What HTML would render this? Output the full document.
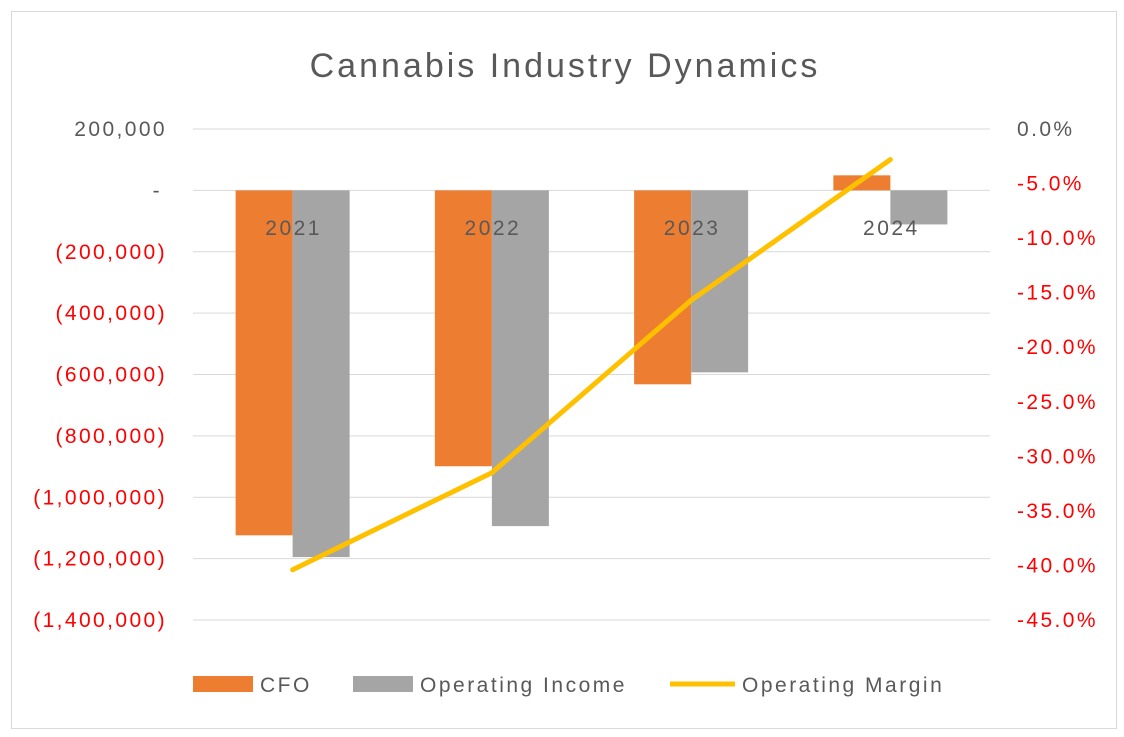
<!DOCTYPE html>
<html><head><meta charset="utf-8"><style>
html,body{margin:0;padding:0;background:#fff}
svg{display:block;font-family:"Liberation Sans",Calibri,sans-serif}
</style></head><body>
<svg id="c" width="1124" height="737">
<rect x="11.5" y="11.5" width="1105" height="717" fill="#fff" stroke="#d9d9d9"/>
<text x="565" y="77" font-size="34" letter-spacing="3" fill="#595959" text-anchor="middle">Cannabis Industry Dynamics</text>
<g id="grid"></g><g id="bars"></g><g id="line"></g><g id="axes"></g>
<g letter-spacing="2.5">
<rect x="193" y="676" width="60" height="16" fill="#ed7d31"/>
<text x="260" y="692" font-size="21" fill="#595959">CFO</text>
<rect x="353" y="676" width="60" height="16" fill="#a5a5a5"/>
<text x="420" y="692" font-size="21" fill="#595959">Operating Income</text>
<line x1="670" y1="684" x2="735" y2="684" stroke="#ffc000" stroke-width="5"/>
<text x="742" y="692" font-size="21" fill="#595959">Operating Margin</text>
</g>
</svg>
<script>
const categories=["2021","2022","2023","2024"];
const cfo=[-1124000,-899000,-632000,49000];
const opIncome=[-1195000,-1094000,-593000,-111000];
const opMargin=[-40.4,-31.5,-15.7,-2.8];
const leftTicks=[200000,0,-200000,-400000,-600000,-800000,-1000000,-1200000,-1400000];
const rightTicks=[0,-5,-10,-15,-20,-25,-30,-35,-40,-45];
const NS="http://www.w3.org/2000/svg";
const x0=193,x1=990,yTop=129,yBot=620;
const yL=v=>yTop+(200000-v)/1600000*(yBot-yTop);
const yR=v=>yTop+(0-v)/45*(yBot-yTop);
const band=(x1-x0)/categories.length;
const xc=i=>x0+band*(i+0.5);
function mk(t,a,p){const e=document.createElementNS(NS,t);for(const k in a)e.setAttribute(k,a[k]);p.appendChild(e);return e;}
const G=document.getElementById('grid'),B=document.getElementById('bars'),L=document.getElementById('line'),A=document.getElementById('axes');
function fmt(v){if(v===0)return "-";const s=Math.abs(v).toLocaleString('en-US');return v<0?"("+s+")":s;}
leftTicks.forEach(v=>{
 const g=mk('line',{x1:x0,x2:x1,y1:yL(v),y2:yL(v),stroke:'#d9d9d9','stroke-width':1},G);
 
 
 const t=mk('text',{x:v===0?162:167,y:yL(v)+7,'font-size':21,'letter-spacing':2.4,'text-anchor':'end',fill:v<0?'#ff0000':'#595959'},A);
 t.textContent=fmt(v);
 
 
});
rightTicks.forEach(v=>{
 const t=mk('text',{x:1017,y:yR(v)+7,'font-size':21,'letter-spacing':2.4,fill:v<0?'#ff0000':'#595959'},A);
 t.textContent=v.toFixed(1)+"%";
 
 
});
const bw=57;
categories.forEach((c,i)=>{
 [[cfo[i],-bw,'#ed7d31','bar-cfo-'+c],[opIncome[i],0,'#a5a5a5','bar-oi-'+c]].forEach(([v,off,col,nm])=>{
  const y=Math.min(yL(v),yL(0)),h=Math.abs(yL(v)-yL(0));
  const r=mk('rect',{x:xc(i)+off,y:y,width:bw,height:h,fill:col},B);
  
  
 });
 const t=mk('text',{x:xc(i)+1,y:235,'font-size':21,'letter-spacing':2.5,'text-anchor':'middle',fill:'#595959'},A);
 t.textContent=c;
 
 
});
const pl=mk('polyline',{points:opMargin.map((v,i)=>xc(i)+","+yR(v)).join(" "),fill:'none',stroke:'#ffc000','stroke-width':5,'stroke-linejoin':'round','stroke-linecap':'round'},L);


</script>
</body></html>
